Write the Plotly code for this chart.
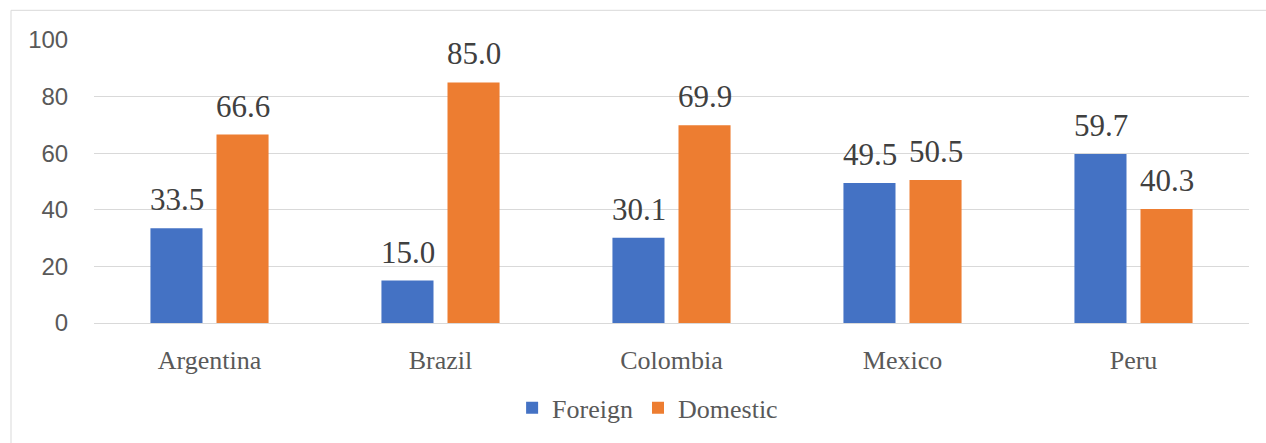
import plotly.graph_objects as go

# Share of listed firms by ownership, per country
countries = ["Argentina", "Brazil", "Colombia", "Mexico", "Peru"]
foreign = [33.5, 15.0, 30.1, 49.5, 59.7]
domestic = [66.6, 85.0, 69.9, 50.5, 40.3]
y_ticks = [0, 20, 40, 60, 80, 100]

BLUE = "#4472C4"
ORANGE = "#ED7D31"
GRID = "#D9D9D9"
SERIF = "Liberation Serif"
SANS = "Liberation Sans"

fig = go.Figure()
fig.add_trace(go.Bar(name="Foreign", x=countries, y=foreign, marker_color=BLUE,
                     marker_line_width=0))
fig.add_trace(go.Bar(name="Domestic", x=countries, y=domestic, marker_color=ORANGE,
                     marker_line_width=0))

# value labels above each bar
annotations = []
for series, shift in ((foreign, -33), (domestic, 33)):
    for c, v in zip(countries, series):
        annotations.append(dict(
            x=c, y=v, xref="x", yref="y", text=f"{v:.1f}", showarrow=False,
            xshift=shift, yshift=9, yanchor="bottom",
            font=dict(family=SERIF, size=31, color="#404040"),
        ))

fig.update_layout(
    width=1266, height=443,
    margin=dict(l=94, r=17, t=40, b=117),
    paper_bgcolor="white", plot_bgcolor="white",
    barmode="group", bargap=0.428, bargroupgap=0.212,
    showlegend=True,
    legend=dict(orientation="h", x=0.362, xanchor="left", y=-0.30, yanchor="middle",
                font=dict(family=SERIF, size=26, color="#595959"),
                itemwidth=30, traceorder="normal"),
    annotations=annotations,
    shapes=[dict(type="rect", xref="paper", yref="paper",
                 x0=(11 - 94) / 1155, x1=1.2, y0=-1.0, y1=1 + 30 / 286,
                 line=dict(color=GRID, width=1), fillcolor="rgba(0,0,0,0)", layer="below")],
)
fig.update_yaxes(range=[0, 100], tickvals=y_ticks, showgrid=True, gridcolor=GRID,
                 gridwidth=1, zeroline=False, showline=False,
                 ticks="outside", ticklen=20, tickcolor="rgba(0,0,0,0)",
                 tickfont=dict(family=SANS, size=24, color="#595959"))
fig.update_xaxes(showline=True, linecolor=GRID, linewidth=1, showgrid=False,
                 ticks="outside", ticklen=14, tickcolor="rgba(0,0,0,0)",
                 tickfont=dict(family=SERIF, size=26, color="#595959"))

fig.write_html("out.html")
